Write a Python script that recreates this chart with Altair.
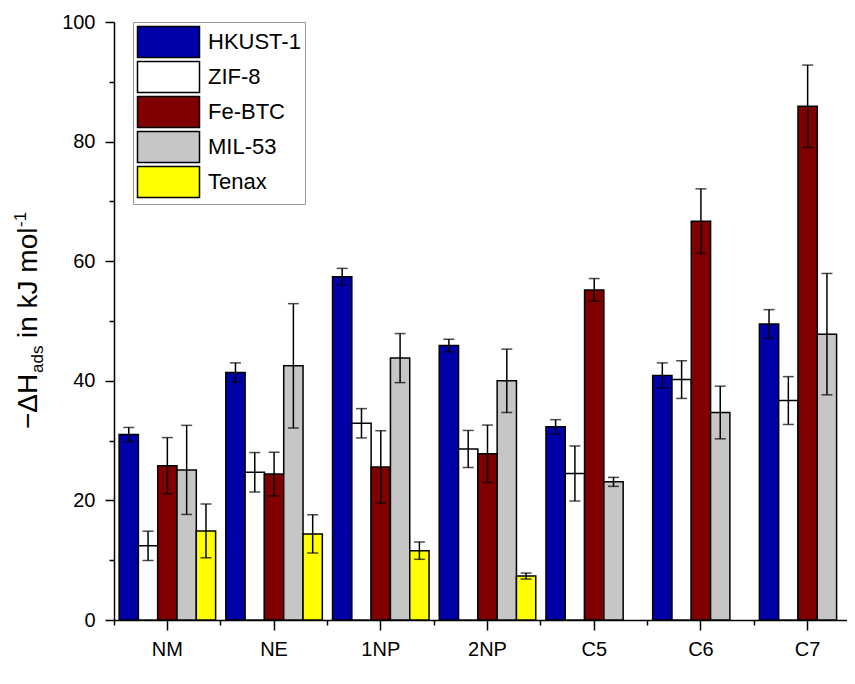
import altair as alt
import pandas as pd

FONT = "Liberation Sans"

categories = ["NM", "NE", "1NP", "2NP", "C5", "C6", "C7"]
series = ["HKUST-1", "ZIF-8", "Fe-BTC", "MIL-53", "Tenax"]
colors = ["#0000A8", "#FFFFFF", "#800000", "#C6C6C6", "#FFFF00"]

hkust_vals = [31.0, 41.4, 57.4, 45.9, 32.3, 40.9, 49.5]
hkust_err = [1.2, 1.6, 1.4, 1.05, 1.2, 2.1, 2.4]
zif_vals = [12.4, 24.7, 32.9, 28.6, 24.5, 40.2, 36.7]
zif_err = [2.45, 3.3, 2.45, 3.1, 4.6, 3.15, 4.0]
febtc_vals = [25.8, 24.4, 25.6, 27.8, 55.2, 66.7, 85.9]
febtc_err = [4.7, 3.65, 6.05, 4.8, 1.9, 5.4, 6.9]
mil_vals = [25.1, 42.5, 43.8, 40.0, 23.1, 34.7, 47.8]
mil_err = [7.45, 10.4, 4.1, 5.3, 0.75, 4.4, 10.15]
tenax_vals = [14.9, 14.4, 11.6, 7.35]
tenax_err = [4.5, 3.2, 1.45, 0.5]

rows = []
for name, vals, errs in [
    ("HKUST-1", hkust_vals, hkust_err),
    ("ZIF-8", zif_vals, zif_err),
    ("Fe-BTC", febtc_vals, febtc_err),
    ("MIL-53", mil_vals, mil_err),
    ("Tenax", tenax_vals, tenax_err),
]:
    for cat, v, e in zip(categories, vals, errs):
        rows.append({"category": cat, "series": name, "value": v,
                     "lo": v - e, "hi": v + e})
df = pd.DataFrame(rows)

# the category scale runs a little past the visible plot (cut at the right edge)
xscale = alt.Scale(domain=categories, range=[0, 747], paddingInner=0, paddingOuter=0)
yscale = alt.Scale(domain=[0, 100], nice=False, zero=True)
xoff = alt.XOffset("series:N", sort=series,
                   scale=alt.Scale(domain=series, paddingInner=0, paddingOuter=0.264))

axis_common = dict(domainColor="black", domainWidth=1.5, tickColor="black",
                   tickWidth=1.5, labelColor="black", labelFont=FONT, title=None,
                   grid=False)

base = alt.Chart(df)

bars = base.mark_bar(stroke="black", strokeWidth=1.5).encode(
    x=alt.X("category:N", scale=xscale,
            axis=alt.Axis(orient="bottom", labelFontSize=20, tickSize=10,
                          labelPadding=9, labelAngle=0, **axis_common)),
    xOffset=xoff,
    y=alt.Y("value:Q", scale=yscale,
            axis=alt.Axis(orient="left", values=[0, 20, 40, 60, 80, 100],
                          labelFontSize=20, tickSize=9, labelPadding=10,
                          **axis_common)),
    color=alt.Color("series:N", sort=series,
                    scale=alt.Scale(domain=series, range=colors),
                    legend=alt.Legend(orient="none", legendX=19, legendY=0,
                                      title=None,
                                      symbolType="M-2,-1H2V1H-2Z",
                                      symbolSize=961,
                                      symbolStrokeColor="black",
                                      symbolStrokeWidth=1.5,
                                      symbolOffset=15.5,
                                      labelOffset=23,
                                      labelFontSize=22, labelFont=FONT,
                                      labelColor="black",
                                      padding=3.5, strokeColor="#999999",
                                      fillColor="white", rowPadding=-2.3)),
)

rules = base.mark_rule(color="black", strokeWidth=1.5).encode(
    x=alt.X("category:N", scale=xscale,
            axis=alt.Axis(orient="bottom", bandPosition=0, labels=False,
                          domain=False, tickSize=5, **axis_common)),
    xOffset=xoff,
    y=alt.Y("lo:Q", scale=yscale,
            axis=alt.Axis(orient="left", values=[10, 30, 50, 70, 90],
                          labels=False, domain=False, tickSize=5,
                          **axis_common)),
    y2="hi:Q",
)

cap_lo = base.mark_tick(color="black", thickness=1.5, size=11).encode(
    x=alt.X("category:N", scale=xscale, axis=None),
    xOffset=xoff,
    y=alt.Y("lo:Q", scale=yscale, axis=None),
)
cap_hi = base.mark_tick(color="black", thickness=1.5, size=11).encode(
    x=alt.X("category:N", scale=xscale, axis=None),
    xOffset=xoff,
    y=alt.Y("hi:Q", scale=yscale, axis=None),
)

one = pd.DataFrame({"k": [0]})
title_parts = [
    ("\u2212\u0394H", 28, -77, 407),
    ("ads", 17, -71, 351),
    ("in kJ mol", 28, -77, 316),
    ("-1", 17, -88, 205),
]
title_layers = []
for txt, size, px, py in title_parts:
    title_layers.append(
        alt.Chart(one).mark_text(text=txt, angle=270, align="left",
                                 baseline="alphabetic", fontSize=size,
                                 font=FONT, color="black").encode(
            x=alt.value(px), y=alt.value(py))
    )

chart = alt.layer(bars, rules, cap_lo, cap_hi, *title_layers).resolve_axis(
    x="independent", y="independent"
).properties(
    width=733, height=598,
    autosize=alt.AutoSizeParams(type="none"),
    padding={"left": 106, "top": 14, "right": 0, "bottom": 48},
).configure_view(stroke=None)

chart.save("out.html", embed_options={"renderer": "svg", "actions": False})
